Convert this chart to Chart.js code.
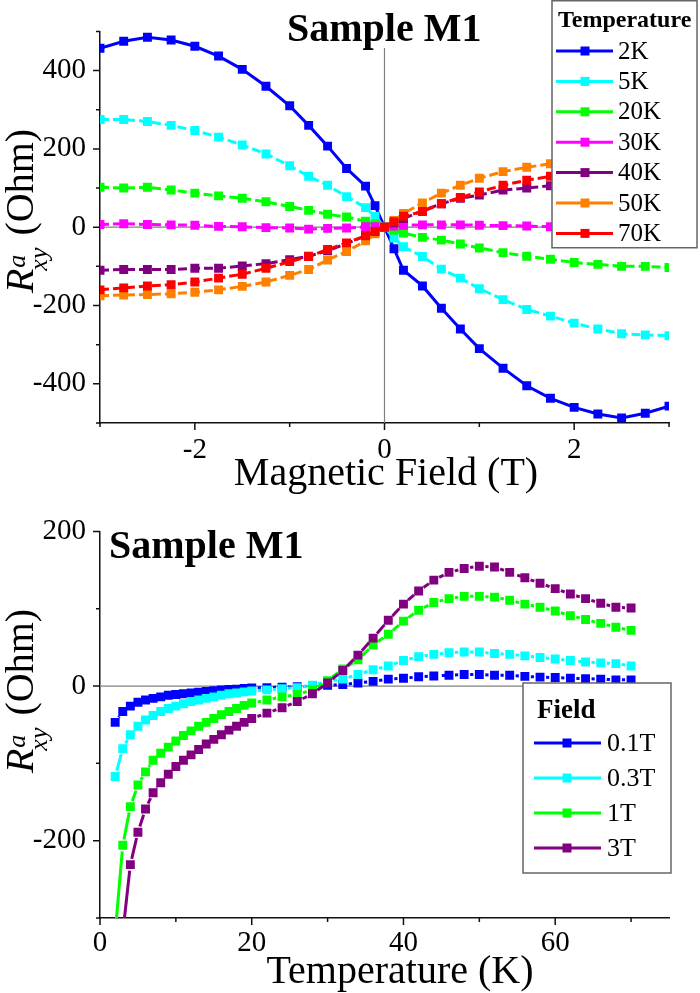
<!DOCTYPE html>
<html>
<head>
<meta charset="utf-8">
<script src="https://cdn.jsdelivr.net/npm/chart.js@4.4.1/dist/chart.umd.min.js"></script>
<style>
  html, body { margin: 0; padding: 0; background: #fff; }
  canvas { display: block; }
</style>
</head>
<body>
<canvas id="fieldChart" width="700" height="500"></canvas>
<canvas id="tempChart" width="700" height="493"></canvas>
<script>
// ---- top panel: R_xy vs magnetic field ----
const fieldT = [-3, -2.75, -2.5, -2.25, -2, -1.75, -1.5, -1.25, -1, -0.8, -0.6, -0.4, -0.2, -0.1, 0,
  0.1, 0.2, 0.4, 0.6, 0.8, 1, 1.25, 1.5, 1.75, 2, 2.25, 2.5, 2.75, 3];
const tempLabels = ['2K', '5K', '20K', '30K', '40K', '50K', '70K'];
const r2K = [457, 475, 485, 478, 462, 437, 403, 360, 310, 260, 207, 150, 105, 55, 0,
  -55, -110, -150, -207, -260, -310, -360, -405, -437, -460, -477, -487, -475, -457];
const r5K = [275, 275, 270, 260, 247, 230, 210, 187, 157, 130, 107, 78, 50, 28, 0,
  -28, -50, -75, -107, -130, -157, -185, -210, -227, -245, -260, -272, -275, -277];
const r20K = [102, 100, 102, 95, 87, 80, 74, 65, 53, 43, 33, 26, 15, 8, 0,
  -8, -15, -26, -33, -43, -53, -65, -74, -82, -90, -95, -100, -100, -103];
const r30K = [7, 9, 7, 6, 5, 2, 1, -1, -2, -5, -3, -2, 1, 1, 0,
  3, 5, 6, 6, 6, 5, 4, 3, 1, 0, -1, -1, -2, -3];
const r40K = [-110, -108, -108, -108, -105, -105, -99, -93, -83, -74, -60, -42, -22, -11, 0,
  11, 22, 42, 60, 74, 82, 95, 100, 106, 108, 108, 108, 110, 110];
const r50K = [-175, -173, -172, -170, -166, -160, -151, -140, -123, -108, -84, -62, -35, -17, 0,
  17, 35, 62, 87, 107, 125, 142, 153, 162, 166, 170, 172, 173, 175];
const r70K = [-160, -155, -150, -147, -140, -130, -120, -105, -88, -75, -57, -40, -22, -11, 0,
  14, 28, 40, 60, 76, 90, 107, 120, 130, 140, 147, 150, 155, 160];

// ---- bottom panel: R_xy vs temperature ----
const tempK = [2, 3, 4, 5, 6, 7, 8, 9, 10, 11, 12, 13, 14, 15, 16, 17, 18, 19, 20,
  22, 24, 26, 28, 30, 32, 34, 36, 38, 40, 42, 44, 46, 48, 50, 52, 54, 56, 58, 60, 62, 64, 66, 68, 70];
const fieldLabels = ['0.1T', '0.3T', '1T', '3T'];
const r01T = [-47, -33, -26, -21, -18, -16, -14, -12, -11, -10, -9, -8, -7, -6, -5, -4.5, -4, -3, -2.5,
  -2, -1.5, -1, 0, 1, 2, 4, 6, 9, 10, 12, 13, 14, 15, 15, 14, 14, 12.5, 11.5, 11, 10, 9.5, 9, 8, 8];
const r03T = [-117, -81, -63, -52, -44, -38, -33, -29, -26, -23, -20, -18, -16, -14, -12, -10, -9, -7.5, -6.5,
  -5, -3.5, -2, 1, 6, 9, 15, 21, 26, 33, 38, 41, 43, 44, 44, 42, 41, 39, 37, 35, 33, 31, 30, 29, 26];
const r1T = [-320, -206, -156, -128, -111, -96, -87, -79, -71, -64, -58, -52, -47, -42, -37, -33, -29, -25, -22,
  -18, -14, -11, -5, 7, 22, 34, 53, 67, 84, 98, 108, 113, 116, 116, 115, 111, 106, 102, 97, 91, 86, 81, 76, 72];
const r3T = [-450, -320, -231, -189, -159, -138, -125, -114, -104, -96, -89, -82, -75, -69, -63, -57, -52, -47, -42,
  -35, -28, -20, -10, 4, 20, 40, 62, 85, 106, 123, 137, 147, 152, 155, 154, 147, 140, 133, 126, 119, 113, 107, 102, 101];

const serif = '"Liberation Serif", "Times New Roman", serif';
const fieldColors = ['#0000ff', '#00ffff', '#00ff00', '#ff00ff', '#800080', '#ff8000', '#ff0000'];
const tempColors = ['#0000ff', '#00ffff', '#00ff00', '#800080'];

// line is cut short near each symbol, like the "gap to symbol" look of the original
function symbolGap(p0, p1, g) {
  const len = Math.hypot(p1.x - p0.x, p1.y - p0.y);
  if (len <= 2 * g + 0.5) return [0, len + 2];
  return [0, g, len - 2 * g, g + 2];
}

function axis(min, max, step, labelEvery, pad, afterFit) {
  return {
    type: 'linear', min, max, afterFit,
    grid: { display: true, drawOnChartArea: false, drawTicks: false },
    border: { display: true, color: '#111', width: 1.5 },
    ticks: {
      stepSize: step, autoSkip: false, includeBounds: false, maxRotation: 0, padding: pad,
      color: '#000', font: { family: serif, size: 29 },
      callback: v => (Math.abs(v % labelEvery) < 1e-9 ? String(v) : '')
    }
  };
}

function drawYTitle(ctx, bx, cy, fs) {
  const sub = Math.round(fs * 0.64);
  ctx.save();
  ctx.translate(bx, cy);
  ctx.rotate(-Math.PI / 2);
  ctx.fillStyle = '#000';
  ctx.textAlign = 'left';
  ctx.textBaseline = 'alphabetic';
  const fR = `italic ${fs}px ${serif}`, fS = `italic ${sub}px ${serif}`, fN = `${fs}px ${serif}`;
  ctx.font = fR; const wR = ctx.measureText('R').width;
  ctx.font = fS; const wS = Math.max(ctx.measureText('a').width, ctx.measureText('xy').width);
  ctx.font = fN; const wO = ctx.measureText(' (Ohm)').width;
  let x0 = -(wR + wS + wO) / 2;
  ctx.font = fR; ctx.fillText('R', x0, 0);
  x0 += wR;
  ctx.font = fS;
  ctx.fillText('a', x0 + 1, -fs * 0.2);
  ctx.fillText('xy', x0 - 2, fs * 0.34);
  x0 += wS;
  ctx.font = fN; ctx.fillText(' (Ohm)', x0, 0);
  ctx.restore();
}

function decor(cfg) {
  return {
    id: 'decor',
    beforeDatasetsDraw(chart) {
      const { ctx, chartArea: a, scales: { x, y } } = chart;
      ctx.save();
      ctx.strokeStyle = '#808080';
      ctx.lineWidth = 1.2;
      ctx.beginPath();
      if (cfg.zeroX) { const px = x.getPixelForValue(0); ctx.moveTo(px, a.top); ctx.lineTo(px, a.bottom); }
      if (cfg.zeroY) { const py = y.getPixelForValue(0); ctx.moveTo(a.left, py); ctx.lineTo(a.right, py); }
      ctx.stroke();
      ctx.restore();
    },
    afterDraw(chart) {
      const { ctx, chartArea: a, scales: { x, y } } = chart;
      ctx.save();
      // tick marks, long for labelled ticks, short for minor ones
      ctx.strokeStyle = '#111';
      ctx.lineWidth = 1.5;
      ctx.beginPath();
      x.ticks.forEach(t => {
        const px = x.getPixelForValue(t.value), len = t.label === '' ? 4 : 7;
        ctx.moveTo(px, a.bottom); ctx.lineTo(px, a.bottom + len);
      });
      y.ticks.forEach(t => {
        const py = y.getPixelForValue(t.value), len = t.label === '' ? 4 : 7;
        ctx.moveTo(a.left, py); ctx.lineTo(a.left - len, py);
      });
      ctx.stroke();

      // panel title
      ctx.font = `bold 40px ${serif}`;
      ctx.textBaseline = 'alphabetic';
      ctx.textAlign = 'left';
      const tw = ctx.measureText(cfg.title.text).width;
      if (cfg.title.clear) {
        ctx.fillStyle = '#fff';
        ctx.fillRect(cfg.title.x - 3, 0, tw + 6, cfg.title.y + 7);
      }
      ctx.fillStyle = '#000';
      ctx.fillText(cfg.title.text, cfg.title.x, cfg.title.y);

      // x axis title
      ctx.font = `40px ${serif}`;
      ctx.textAlign = 'center';
      ctx.fillText(cfg.xTitle.text, cfg.xTitle.x, cfg.xTitle.y);

      // y axis title
      drawYTitle(ctx, cfg.yTitle.x, cfg.yTitle.y, 40);

      // legend box drawn over the data
      const lg = cfg.legend;
      ctx.fillStyle = '#fff';
      ctx.fillRect(lg.x, lg.y, lg.w, lg.h);
      ctx.strokeStyle = '#666';
      ctx.lineWidth = 1.5;
      ctx.strokeRect(lg.x, lg.y, lg.w, lg.h);
      ctx.fillStyle = '#000';
      ctx.textAlign = 'left';
      ctx.font = `bold ${lg.titleSize}px ${serif}`;
      ctx.fillText(lg.title, lg.titleX, lg.titleY);
      ctx.font = `${lg.size}px ${serif}`;
      ctx.textBaseline = 'middle';
      chart.data.datasets.forEach((ds, i) => {
        const yy = lg.firstY + i * lg.gap;
        ctx.strokeStyle = ds.borderColor;
        ctx.lineWidth = 3;
        ctx.beginPath();
        ctx.moveTo(lg.lineX0, yy); ctx.lineTo(lg.lineX1, yy);
        ctx.stroke();
        ctx.fillStyle = ds.borderColor;
        ctx.fillRect(lg.markX - 4.5, yy - 4.5, 9, 9);
        ctx.fillStyle = '#000';
        ctx.fillText(ds.label, lg.textX, yy + 1);
      });
      ctx.restore();
    }
  };
}

// ---------- top chart ----------
const fieldSeries = [r2K, r5K, r20K, r30K, r40K, r50K, r70K];
new Chart(document.getElementById('fieldChart'), {
  type: 'line',
  data: {
    datasets: fieldSeries.map((vals, i) => ({
      label: tempLabels[i],
      data: fieldT.map((b, j) => ({ x: b, y: vals[j] })),
      borderColor: fieldColors[i],
      backgroundColor: fieldColors[i],
      borderWidth: 3,
      borderDash: i === 0 ? [] : [9, 4],
      pointStyle: 'rect',
      pointRadius: 6.3,
      pointBorderWidth: 0,
      pointBackgroundColor: fieldColors[i],
      order: fieldSeries.length - i
    }))
  },
  options: {
    responsive: false,
    animation: false,
    events: [],
    layout: { padding: { top: 23, right: 31, left: 0, bottom: 0 } },
    plugins: { legend: { display: false }, tooltip: { enabled: false } },
    scales: {
      x: axis(-3, 3, 1, 2, 10, s => { s.height = 77; }),
      y: axis(-500, 500, 100, 200, 14, s => { s.width = 100; })
    }
  },
  plugins: [decor({
    zeroX: true, zeroY: true,
    title: { text: 'Sample M1', x: 287, y: 41, clear: true },
    xTitle: { text: 'Magnetic Field (T)', x: 386, y: 485 },
    yTitle: { x: 33, y: 211 },
    legend: {
      x: 552, y: 0.75, w: 145, h: 247, title: 'Temperature', titleSize: 24, titleX: 558, titleY: 27,
      size: 25, firstY: 51, gap: 30.4, lineX0: 556, lineX1: 613, markX: 585, textX: 618
    }
  })]
});

// ---------- bottom chart ----------
const tempSeries = [r01T, r03T, r1T, r3T];
new Chart(document.getElementById('tempChart'), {
  type: 'line',
  data: {
    datasets: tempSeries.map((vals, i) => ({
      label: fieldLabels[i],
      data: tempK.map((t, j) => ({ x: t, y: vals[j] })),
      borderColor: tempColors[i],
      backgroundColor: tempColors[i],
      borderWidth: 3,
      segment: { borderDash: c => symbolGap(c.p0, c.p1, 6) },
      pointStyle: 'rect',
      pointRadius: 6.3,
      pointBorderWidth: 0,
      pointBackgroundColor: tempColors[i],
      order: tempSeries.length - i
    }))
  },
  options: {
    responsive: false,
    animation: false,
    events: [],
    layout: { padding: { top: 17, right: 31, left: 0, bottom: 0 } },
    plugins: { legend: { display: false }, tooltip: { enabled: false } },
    scales: {
      x: axis(0, 75, 10, 20, 8, s => { s.height = 75; }),
      y: axis(-300, 200, 100, 200, 14, s => { s.width = 100; })
    }
  },
  plugins: [decor({
    zeroX: false, zeroY: true,
    title: { text: 'Sample M1', x: 109, y: 58, clear: false },
    xTitle: { text: 'Temperature (K)', x: 400, y: 483 },
    yTitle: { x: 33, y: 191 },
    legend: {
      x: 523, y: 183, w: 148, h: 190, title: 'Field', titleSize: 27, titleX: 537, titleY: 218,
      size: 26, firstY: 243, gap: 35, lineX0: 534, lineX1: 601, markX: 567, textX: 607
    }
  })]
});
</script>
</body>
</html>
